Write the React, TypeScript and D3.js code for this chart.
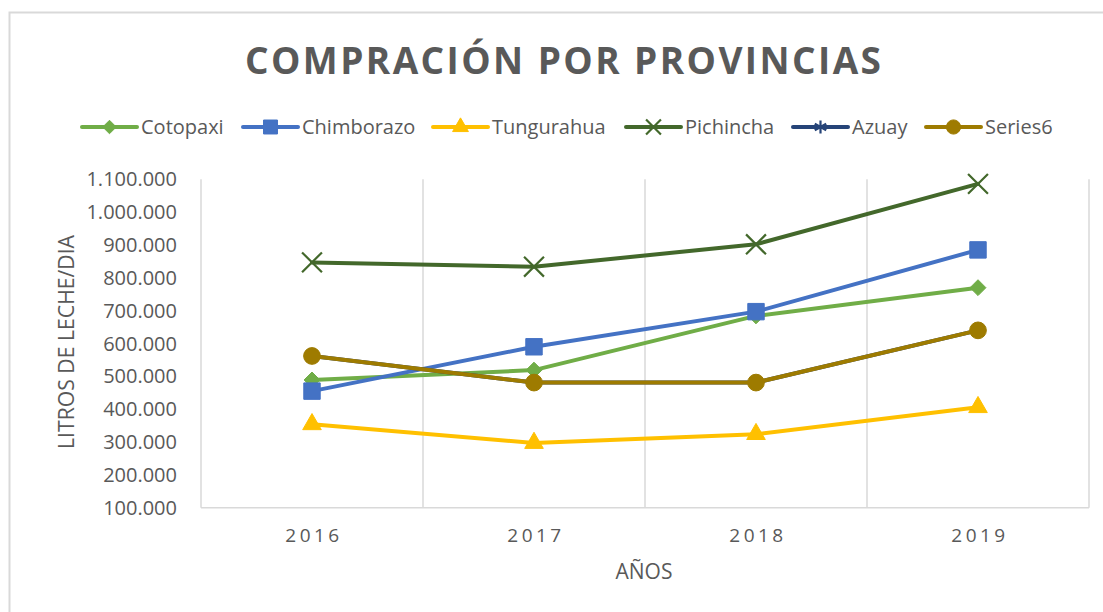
import React from "react";
import * as d3 from "d3";

const years = ["2016", "2017", "2018", "2019"];
const seriesNames = ["Cotopaxi", "Chimborazo", "Tungurahua", "Pichincha", "Azuay", "Series6"];
const cotopaxi = [489000, 519000, 684000, 770000];
const chimborazo = [455000, 590000, 697000, 885000];
const tungurahua = [354000, 297000, 324000, 406000];
const pichincha = [847000, 834000, 902000, 1086000];
const azuay = [562000, 481000, 481000, 640000];
const series6 = [562000, 481000, 481000, 640000];
const yTicks = [100000, 200000, 300000, 400000, 500000, 600000, 700000, 800000, 900000, 1000000, 1100000];

const seriesValues = [cotopaxi, chimborazo, tungurahua, pichincha, azuay, series6];
const colors = ["#70AD47", "#4472C4", "#FFC000", "#43682B", "#264478", "#9E7B00"];
const symbols = [d3.symbolDiamond2, d3.symbolSquare, d3.symbolTriangle, d3.symbolX, d3.symbolAsterisk, d3.symbolCircle];
const symbolSizes = [160, 270, 150, 260, 170, 220];
const legendScale = [0.85, 0.85, 0.85, 0.75, 0.85, 0.85];
const strokeSymbols = [false, false, false, true, true, false];
const legendX = [82, 243, 433, 626, 793, 926];

const W = 1103;
const H = 612;
const plotL = 201;
const plotR = 1089;
const plotT = 179.3;
const plotB = 507.7;

const fmt = (v: number) => d3.format(",")(v).replace(/,/g, ".");

function Marker({ i, x, y, scale = 1 }: { i: number; x: number; y: number; scale?: number }) {
  const p = d3.symbol(symbols[i], symbolSizes[i] * scale * scale)() || "";
  const c = colors[i];
  return strokeSymbols[i] ? (
    <path d={p} transform={`translate(${x},${y})`} fill="none" stroke={c} strokeWidth={2.2} />
  ) : (
    <path d={p} transform={`translate(${x},${y})`} fill={c} stroke={c} strokeWidth={1} />
  );
}

export default function App() {
  const x = d3.scaleBand<string>().domain(years).range([plotL, plotR]).padding(0);
  const y = d3.scaleLinear().domain([100000, 1100000]).range([plotB, plotT]);
  const cx = (yr: string) => (x(yr) as number) + x.bandwidth() / 2;
  const line = d3
    .line<number>()
    .x((_, j) => cx(years[j]))
    .y((v) => y(v));
  const gridXs = years.map((yr) => x(yr) as number).concat([plotR]);
  const font = "'Open Sans', 'Noto Sans', sans-serif";
  const textColor = "#595959";

  return (
    <svg width={W} height={H} style={{ position: "absolute", left: 0, top: 0, background: "#fff" }}>
      <rect x={9.5} y={12.5} width={W + 10} height={H + 10} fill="#fff" stroke="#D9D9D9" strokeWidth={2} />
      <text
        x={563}
        y={74}
        textAnchor="middle"
        fontFamily={font}
        fontWeight={700}
        fontSize={37}
        fill={textColor}
        textLength={636}
        lengthAdjust="spacing"
      >
        COMPRACIÓN  POR PROVINCIAS
      </text>
      {/* legend */}
      {seriesNames.map((n, i) => (
        <g key={n}>
          <line x1={legendX[i]} x2={legendX[i] + 55} y1={127} y2={127} stroke={colors[i]} strokeWidth={4} strokeLinecap="round" />
          <Marker i={i} x={legendX[i] + 27.5} y={127} scale={legendScale[i]} />
          <text x={legendX[i] + 59} y={134} fontFamily={font} fontSize={20} fill={textColor}>
            {n}
          </text>
        </g>
      ))}
      {/* grid */}
      {gridXs.map((gx, k) => (
        <line key={k} x1={gx} x2={gx} y1={plotT} y2={plotB} stroke="#D9D9D9" strokeWidth={1.5} />
      ))}
      <line x1={plotL} x2={plotR} y1={plotB} y2={plotB} stroke="#D9D9D9" strokeWidth={1.5} />
      {/* y ticks */}
      {yTicks.map((t) => (
        <text key={t} x={177} y={y(t) + 7} textAnchor="end" fontFamily={font} fontSize={20} fill={textColor}>
          {fmt(t)}
        </text>
      ))}
      {/* x ticks */}
      {years.map((yr) => (
        <text key={yr} x={cx(yr) + 2} y={542} textAnchor="middle" fontFamily={font} fontSize={19} letterSpacing={3.5} fill={textColor}>
          {yr}
        </text>
      ))}
      <text x={644} y={579} textAnchor="middle" fontFamily={font} fontSize={21} fill={textColor}>
        AÑOS
      </text>
      <text
        transform={`translate(74,342) rotate(-90)`}
        textAnchor="middle"
        fontFamily={font}
        fontSize={21}
        fill={textColor}
        textLength={214}
        lengthAdjust="spacingAndGlyphs"
      >
        LITROS DE LECHE/DIA
      </text>
      {/* series */}
      {seriesValues.map((vals, i) => (
        <g key={seriesNames[i]}>
          <path d={line(vals) || ""} fill="none" stroke={colors[i]} strokeWidth={4} strokeLinejoin="round" strokeLinecap="round" />
          {vals.map((v, j) => (
            <Marker key={j} i={i} x={cx(years[j])} y={y(v)} />
          ))}
        </g>
      ))}
    </svg>
  );
}
